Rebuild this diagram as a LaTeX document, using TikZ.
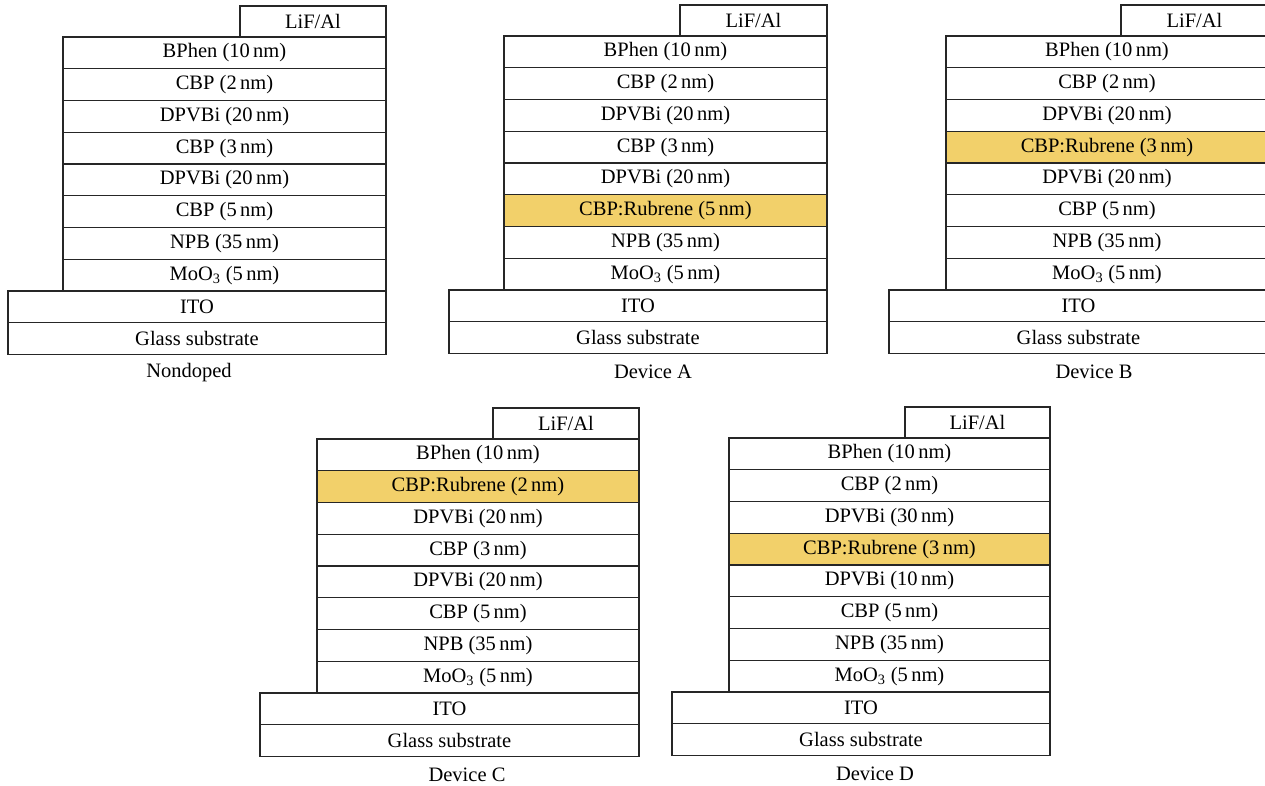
\documentclass[tikz,border=0pt]{standalone}
\usepackage{fontspec}
\setmainfont{Liberation Serif}
\usetikzlibrary{positioning}

\definecolor{rubrene}{RGB}{242,208,106}

% one device stack: name, ITO left, layer left, LiF left, right, top, caption x, caption, layers
\newcommand{\oledstack}[9]{%
  \node[lif, minimum width={#5-#4}, anchor=north west] (#1lif) at (#4,#6) {LiF/Al};
  \foreach \txt/\col [count=\i] in {#9} {
    \pgfmathtruncatemacro\prev{\i-1}
    \ifnum\i=1
      \node[layer, fill=\col, minimum width={#5-#3}, anchor=north east] (#1l\i) at (#1lif.south east) {\txt};
    \else
      \node[layer, fill=\col, minimum width={#5-#3}, below=0pt of #1l\prev] (#1l\i) {\txt};
    \fi
  }
  \node[layer, minimum width={#5-#2}, anchor=north east] (#1ito) at (#1l8.south east) {ITO};
  \node[layer, minimum width={#5-#2}, below=0pt of #1ito] (#1glass) {Glass substrate};
  \node[caption] (#1cap) at (#7,{#6+367}) {#8};
}

\begin{document}
\begin{tikzpicture}[
  x=1pt, y=-1pt,
  every node/.style={font=\fontsize{20.5}{23}\selectfont, inner sep=0pt, outer sep=0pt},
  box/.style={draw=black!85, line width=1.3pt, fill=white},
  lif/.style={box, minimum height=31pt},
  layer/.style={box, minimum height=31.75pt},
  caption/.style={}]
\useasboundingbox (0,0) rectangle (1265,786);

\oledstack{n}{8}{63}{240}{386}{6}{189}{Nondoped}{
  BPhen (10\,nm)/white, CBP (2\,nm)/white, DPVBi (20\,nm)/white, CBP (3\,nm)/white,
  DPVBi (20\,nm)/white, CBP (5\,nm)/white, NPB (35\,nm)/white, MoO\textsubscript{3} (5\,nm)/white}

\oledstack{a}{449}{504}{680}{827}{5}{653}{Device A}{
  BPhen (10\,nm)/white, CBP (2\,nm)/white, DPVBi (20\,nm)/white, CBP (3\,nm)/white,
  DPVBi (20\,nm)/white, CBP:Rubrene (5\,nm)/rubrene, NPB (35\,nm)/white, MoO\textsubscript{3} (5\,nm)/white}

\oledstack{b}{889}{946}{1121}{1268}{5}{1094}{Device B}{
  BPhen (10\,nm)/white, CBP (2\,nm)/white, DPVBi (20\,nm)/white, CBP:Rubrene (3\,nm)/rubrene,
  DPVBi (20\,nm)/white, CBP (5\,nm)/white, NPB (35\,nm)/white, MoO\textsubscript{3} (5\,nm)/white}

\oledstack{c}{260}{317}{493}{639}{408}{467}{Device C}{
  BPhen (10\,nm)/white, CBP:Rubrene (2\,nm)/rubrene, DPVBi (20\,nm)/white, CBP (3\,nm)/white,
  DPVBi (20\,nm)/white, CBP (5\,nm)/white, NPB (35\,nm)/white, MoO\textsubscript{3} (5\,nm)/white}

\oledstack{d}{672}{729}{905}{1050}{407}{875}{Device D}{
  BPhen (10\,nm)/white, CBP (2\,nm)/white, DPVBi (30\,nm)/white, CBP:Rubrene (3\,nm)/rubrene,
  DPVBi (10\,nm)/white, CBP (5\,nm)/white, NPB (35\,nm)/white, MoO\textsubscript{3} (5\,nm)/white}
\end{tikzpicture}
\end{document}
